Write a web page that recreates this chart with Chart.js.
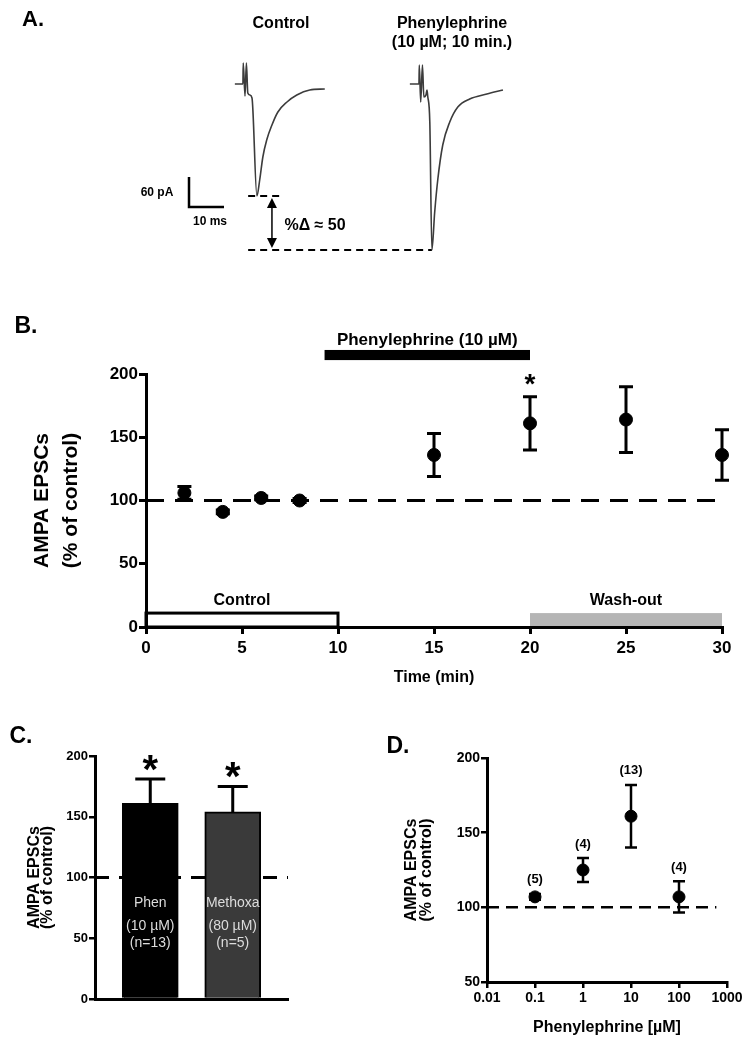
<!DOCTYPE html>
<html>
<head>
<meta charset="utf-8">
<script src="https://cdn.jsdelivr.net/npm/chart.js@4.4.1/dist/chart.umd.min.js"></script>
<style>
  body { margin: 0; background: #fff; }
  #fig { position: relative; width: 753px; height: 1050px; background: #fff; }
  canvas { position: absolute; }
</style>
</head>
<body>
<div id="fig">
  <canvas id="chartA" width="753" height="265" style="left:0px;top:0px"></canvas>
  <canvas id="chartB" width="753" height="400" style="left:0px;top:290px"></canvas>
  <canvas id="chartC" width="380" height="350" style="left:0px;top:700px"></canvas>
  <canvas id="chartD" width="373" height="350" style="left:380px;top:700px"></canvas>
</div>
<script>
// A. example EPSC traces (time in ms from trace start, current in pA from baseline)
const ctrlMs = [0, 2.3, 2.4, 2.9, 3.3, 3.7, 4.3, 4.9, 6.3, 7.1, 8.0, 9.1, 10.6, 12.3, 14.9, 17.7, 21.4, 25.7];
const ctrlPA = [0, 0, 42, -24, 42, -18, -22, -28, -224, -192, -146, -112, -82, -56, -36, -22, -12, -10];
const phenMs = [0, 2.6, 2.7, 3.1, 3.6, 4.0, 4.6, 4.9, 5.1, 5.7, 6.3, 7.1, 8.0, 9.4, 11.4, 13.7, 17.1, 22.0, 26.6];
const phenPA = [0, 0, 38, -36, 38, -26, -22, -12, -24, -76, -332, -256, -190, -122, -76, -46, -30, -20, -12];
const scaleBarPA = 60;
const scaleBarMs = 10;

// B. time course
const timeMin = [2, 4, 6, 8, 15, 20, 25, 30];
const epscPct = [106, 91, 102, 100, 136, 161, 164, 136];
const epscSem = [5, 1.5, 1.5, 1.5, 17, 21, 26, 20];
const phaseNames = ['Control', 'Wash-out'];
const phaseFrom = [0, 20];
const phaseTo = [10, 30];
const drugName = 'Phenylephrine (10 µM)';
const drugFrom = 9.3;
const drugTo = 20;

// C. bar summary
const treatments = ['Phen', 'Methoxa'];
const treatmentDose = ['(10 µM)', '(80 µM)'];
const treatmentN = ['(n=13)', '(n=5)'];
const treatmentPct = [161, 154];
const treatmentSem = [20, 21];

// D. concentration response
const concUM = [0.1, 1, 10, 100];
const concPct = [107, 125, 161, 107];
const concSem = [2, 8, 21, 10.5];
const concN = ['(5)', '(4)', '(13)', '(4)'];
const doseTicks = [0.01, 0.1, 1, 10, 100, 1000];
const doseTickLabels = ['0.01', '0.1', '1', '10', '100', '1000'];

const FONT = "'Liberation Sans', Arial, Helvetica, sans-serif";
Chart.defaults.font.family = FONT;
Chart.defaults.color = '#000';
Chart.defaults.animation = false;
Chart.defaults.responsive = false;
Chart.defaults.devicePixelRatio = 1;
Chart.defaults.plugins.legend.display = false;
Chart.defaults.plugins.tooltip.enabled = false;

function drawText(ctx, text, x, y, size, weight, color, baseline) {
  ctx.save();
  ctx.font = (weight || 'bold') + ' ' + size + 'px ' + FONT;
  ctx.fillStyle = color || '#000';
  ctx.textAlign = 'center';
  ctx.textBaseline = baseline || 'middle';
  ctx.fillText(text, x, y);
  ctx.restore();
}

// asterisk sits high in the em box, so shift the baseline down
function drawStar(ctx, x, centerY, size) {
  drawText(ctx, '*', x, centerY + size * 0.55, size, 'bold', '#000', 'alphabetic');
}

// vertical error bars for any dataset that has an errors array
const errorBars = {
  id: 'errorBars',
  afterDatasetsDraw(chart) {
    const ctx = chart.ctx;
    const yScale = chart.scales.y;
    chart.data.datasets.forEach((ds, i) => {
      if (!ds.errors) return;
      const meta = chart.getDatasetMeta(i);
      ctx.save();
      ctx.strokeStyle = '#000';
      ctx.lineWidth = ds.errorWidth;
      meta.data.forEach((el, j) => {
        const v = ds.data[j].y;
        const e = ds.errors[j];
        const top = yScale.getPixelForValue(v + e);
        const bottom = yScale.getPixelForValue(ds.upperOnly ? v : v - e);
        ctx.beginPath();
        ctx.moveTo(el.x, top);
        ctx.lineTo(el.x, bottom);
        ctx.moveTo(el.x - ds.capWidth, top);
        ctx.lineTo(el.x + ds.capWidth, top);
        if (!ds.upperOnly) {
          ctx.moveTo(el.x - ds.capWidth, bottom);
          ctx.lineTo(el.x + ds.capWidth, bottom);
        }
        ctx.stroke();
      });
      ctx.restore();
    });
  }
};

function axisStyle(tickLen, width) {
  return {
    grid: { display: true, drawOnChartArea: false, drawTicks: true, tickLength: tickLen, color: '#000', lineWidth: width },
    border: { display: true, color: '#000', width: 3 }
  };
}

//---------------- Panel A ----------------
const ctrlStart = 67.1;
const phenStart = 117.1;
const ctrlPeak = Math.min(...ctrlPA);
const phenPeak = Math.min(...phenPA);
const phenPeakMs = phenStart + phenMs[phenPA.indexOf(phenPeak)];
const dashStart = 70.9;
const arrowMs = 77.7;
const barX = 54;
const barY = -246;

const aAnnotations = {
  id: 'aAnnotations',
  afterDraw(chart) {
    const ctx = chart.ctx;
    const xs = chart.scales.x, ys = chart.scales.y;
    drawText(ctx, 'A.', 33, 20, 22);
    drawText(ctx, 'Control', 281, 24, 16);
    drawText(ctx, 'Phenylephrine', 452, 24, 16);
    drawText(ctx, '(10 µM; 10 min.)', 452, 43, 16);
    drawText(ctx, '60 pA', 157, 193, 12);
    drawText(ctx, '10 ms', 210, 222, 12);
    drawText(ctx, '%Δ ≈ 50', 315, 226, 16);

    // double headed arrow between the two peak levels
    const x = xs.getPixelForValue(arrowMs);
    const y1 = ys.getPixelForValue(ctrlPeak) + 2;
    const y2 = ys.getPixelForValue(phenPeak) - 2;
    ctx.save();
    ctx.strokeStyle = '#000';
    ctx.fillStyle = '#000';
    ctx.lineWidth = 1.5;
    ctx.beginPath();
    ctx.moveTo(x, y1 + 8);
    ctx.lineTo(x, y2 - 8);
    ctx.stroke();
    ctx.beginPath();
    ctx.moveTo(x, y1); ctx.lineTo(x - 5, y1 + 10); ctx.lineTo(x + 5, y1 + 10); ctx.closePath();
    ctx.moveTo(x, y2); ctx.lineTo(x - 5, y2 - 10); ctx.lineTo(x + 5, y2 - 10); ctx.closePath();
    ctx.fill();
    ctx.restore();
  }
};

new Chart(document.getElementById('chartA'), {
  type: 'scatter',
  data: {
    datasets: [
      { data: ctrlMs.map((t, i) => ({ x: ctrlStart + t, y: ctrlPA[i] })), showLine: true,
        borderColor: '#3c3c3c', borderWidth: 1.6, pointRadius: 0, cubicInterpolationMode: 'monotone' },
      { data: phenMs.map((t, i) => ({ x: phenStart + t, y: phenPA[i] })), showLine: true,
        borderColor: '#3c3c3c', borderWidth: 1.6, pointRadius: 0, cubicInterpolationMode: 'monotone' },
      { data: [{ x: dashStart, y: ctrlPeak }, { x: dashStart + 9.7, y: ctrlPeak }], showLine: true,
        borderColor: '#000', borderWidth: 2, borderDash: [7, 5], pointRadius: 0 },
      { data: [{ x: dashStart, y: phenPeak }, { x: phenPeakMs, y: phenPeak }], showLine: true,
        borderColor: '#000', borderWidth: 2, borderDash: [7, 5], pointRadius: 0 },
      { data: [{ x: barX, y: barY + scaleBarPA }, { x: barX, y: barY }, { x: barX + scaleBarMs, y: barY }], showLine: true,
        borderColor: '#000', borderWidth: 2.5, pointRadius: 0 }
    ]
  },
  options: {
    layout: { padding: 0 },
    scales: {
      x: { type: 'linear', display: false, min: 0, max: 753 / 3.5 },
      y: { type: 'linear', display: false, min: -362, max: 168 }
    }
  },
  plugins: [aAnnotations]
});

//---------------- Panel B ----------------
const bAnnotations = {
  id: 'bAnnotations',
  beforeDraw(chart) {
    const ctx = chart.ctx;
    const xs = chart.scales.x, ys = chart.scales.y;
    const y0 = ys.getPixelForValue(0), y1 = ys.getPixelForValue(11);
    ctx.save();
    // wash-out grey block
    const wx0 = xs.getPixelForValue(phaseFrom[1]), wx1 = xs.getPixelForValue(phaseTo[1]);
    ctx.fillStyle = '#b5b5b5';
    ctx.fillRect(wx0, y1, wx1 - wx0, y0 - y1);
    // control open box
    const cx0 = xs.getPixelForValue(phaseFrom[0]), cx1 = xs.getPixelForValue(phaseTo[0]);
    ctx.strokeStyle = '#000';
    ctx.lineWidth = 3;
    ctx.strokeRect(cx0, y1, cx1 - cx0, y0 - y1);
    ctx.restore();
  },
  afterDraw(chart) {
    const ctx = chart.ctx;
    const xs = chart.scales.x, ys = chart.scales.y;
    drawText(ctx, 'B.', 26, 37, 23);
    phaseNames.forEach((name, i) => {
      drawText(ctx, name, xs.getPixelForValue((phaseFrom[i] + phaseTo[i]) / 2), ys.getPixelForValue(21), 16);
    });
    // drug application bar above the plot
    const dx0 = xs.getPixelForValue(drugFrom), dx1 = xs.getPixelForValue(drugTo);
    const dTop = ys.getPixelForValue(219), dBot = ys.getPixelForValue(211);
    ctx.save();
    ctx.fillStyle = '#000';
    ctx.fillRect(dx0, dTop, dx1 - dx0, dBot - dTop);
    ctx.restore();
    drawText(ctx, drugName, (dx0 + dx1) / 2, ys.getPixelForValue(227), 17);
    // significance star over the 20 min point
    const k = timeMin.indexOf(20);
    drawStar(ctx, xs.getPixelForValue(20), ys.getPixelForValue(epscPct[k] + epscSem[k]) - 19, 28);
  }
};

new Chart(document.getElementById('chartB'), {
  type: 'scatter',
  data: {
    datasets: [
      { data: timeMin.map((t, i) => ({ x: t, y: epscPct[i] })), errors: epscSem, capWidth: 7, errorWidth: 3,
        pointRadius: 6.5, backgroundColor: '#000', borderColor: '#000', clip: false, order: 1 },
      { type: 'line', data: [{ x: 0, y: 100 }, { x: 30, y: 100 }], borderColor: '#000', borderWidth: 3,
        borderDash: [18, 11], pointRadius: 0, clip: false, order: 2 }
    ]
  },
  options: {
    layout: { padding: { left: 0, top: 84, right: 31, bottom: 0 } },
    scales: {
      x: {
        type: 'linear', min: 0, max: 30,
        afterFit: s => { s.height = 63; },
        ticks: { stepSize: 5, font: { size: 17, weight: 'bold' }, padding: 4, maxRotation: 0 },
        ...axisStyle(7, 3),
        title: { display: true, text: 'Time (min)', font: { size: 16, weight: 'bold' }, padding: { top: 0, bottom: 3 } }
      },
      y: {
        min: 0, max: 200,
        afterFit: s => { s.width = 146; },
        ticks: { stepSize: 50, font: { size: 17, weight: 'bold' }, padding: 1 },
        ...axisStyle(7, 3),
        title: { display: true, text: ['AMPA EPSCs', '(% of control)'],
          font: { size: 21, weight: 'bold', lineHeight: 1.38 }, padding: { top: 28, bottom: 0 } }
      }
    }
  },
  plugins: [errorBars, bAnnotations]
});

//---------------- Panel C ----------------
const cAnnotations = {
  id: 'cAnnotations',
  afterDraw(chart) {
    const ctx = chart.ctx;
    const ys = chart.scales.y;
    const bottom = chart.chartArea.bottom;
    drawText(ctx, 'C.', 21, 37, 23);
    const meta = chart.getDatasetMeta(0);
    meta.data.forEach((bar, i) => {
      drawText(ctx, treatments[i], bar.x, bottom - 96, 14, 'normal', '#dcdcdc');
      drawText(ctx, treatmentDose[i], bar.x, bottom - 73, 14, 'normal', '#dcdcdc');
      drawText(ctx, treatmentN[i], bar.x, bottom - 56, 14, 'normal', '#dcdcdc');
      drawStar(ctx, bar.x, ys.getPixelForValue(treatmentPct[i] + treatmentSem[i]) - 18, 40);
    });
  }
};

new Chart(document.getElementById('chartC'), {
  type: 'bar',
  data: {
    datasets: [
      { data: treatments.map((t, i) => ({ x: i + 1, y: treatmentPct[i] })), errors: treatmentSem, upperOnly: true,
        capWidth: 15, errorWidth: 3, backgroundColor: ['#000', '#3a3a3a'], borderColor: '#000', borderWidth: 2,
        barThickness: 56, order: 1 },
      { type: 'line', data: [{ x: 0.33, y: 100 }, { x: 2.67, y: 100 }], borderColor: '#000', borderWidth: 3,
        borderDash: [14, 10], pointRadius: 0, clip: false, order: 2 }
    ]
  },
  options: {
    layout: { padding: { left: 0, top: 56, right: 92, bottom: 0 } },
    scales: {
      x: {
        type: 'linear', min: 0.33, max: 2.67, offset: false,
        afterFit: s => { s.height = 51; },
        ticks: { display: false },
        grid: { display: false, offset: false },
        border: { display: true, color: '#000', width: 3 }
      },
      y: {
        min: 0, max: 200,
        afterFit: s => { s.width = 95; },
        ticks: { stepSize: 50, font: { size: 13, weight: 'bold' }, padding: 1 },
        ...axisStyle(6, 2.5),
        title: { display: true, text: ['AMPA EPSCs', '(% of control)'],
          font: { size: 16, weight: 'bold', lineHeight: 0.8 }, padding: { top: 28, bottom: 0 } }
      }
    }
  },
  plugins: [errorBars, cAnnotations]
});

//---------------- Panel D ----------------
const dAnnotations = {
  id: 'dAnnotations',
  afterDraw(chart) {
    const ctx = chart.ctx;
    const ys = chart.scales.y;
    drawText(ctx, 'D.', 18, 47, 23);
    const meta = chart.getDatasetMeta(0);
    meta.data.forEach((pt, i) => {
      drawText(ctx, concN[i], pt.x, ys.getPixelForValue(concPct[i] + concSem[i]) - 14, 13);
    });
  }
};

new Chart(document.getElementById('chartD'), {
  type: 'scatter',
  data: {
    datasets: [
      { data: concUM.map((c, i) => ({ x: c, y: concPct[i] })), errors: concSem, capWidth: 6, errorWidth: 2.5,
        pointRadius: 6, backgroundColor: '#000', borderColor: '#000', clip: false, order: 1 },
      { type: 'line', data: [{ x: 0.01, y: 100 }, { x: 600, y: 100 }], borderColor: '#000', borderWidth: 2.5,
        borderDash: [12, 7], pointRadius: 0, order: 2 }
    ]
  },
  options: {
    layout: { padding: { left: 0, top: 58, right: 26, bottom: 0 } },
    scales: {
      x: {
        type: 'logarithmic', min: 0.01, max: 1000,
        afterBuildTicks: s => { s.ticks = doseTicks.map(v => ({ value: v })); },
        afterFit: s => { s.height = 68; },
        ticks: { callback: (v, i) => doseTickLabels[i], font: { size: 14, weight: 'bold' }, padding: 2,
          maxRotation: 0, autoSkip: false },
        ...axisStyle(6, 2.5),
        title: { display: true, text: 'Phenylephrine [µM]', font: { size: 16, weight: 'bold' }, padding: { top: 0, bottom: 13 } }
      },
      y: {
        min: 50, max: 200,
        afterFit: s => { s.width = 107; },
        ticks: { stepSize: 50, font: { size: 14, weight: 'bold' }, padding: 1 },
        ...axisStyle(6, 2.5),
        title: { display: true, text: ['AMPA EPSCs', '(% of control)'],
          font: { size: 16, weight: 'bold', lineHeight: 0.94 }, padding: { top: 24, bottom: 0 } }
      }
    }
  },
  plugins: [errorBars, dAnnotations]
});
</script>
</body>
</html>
